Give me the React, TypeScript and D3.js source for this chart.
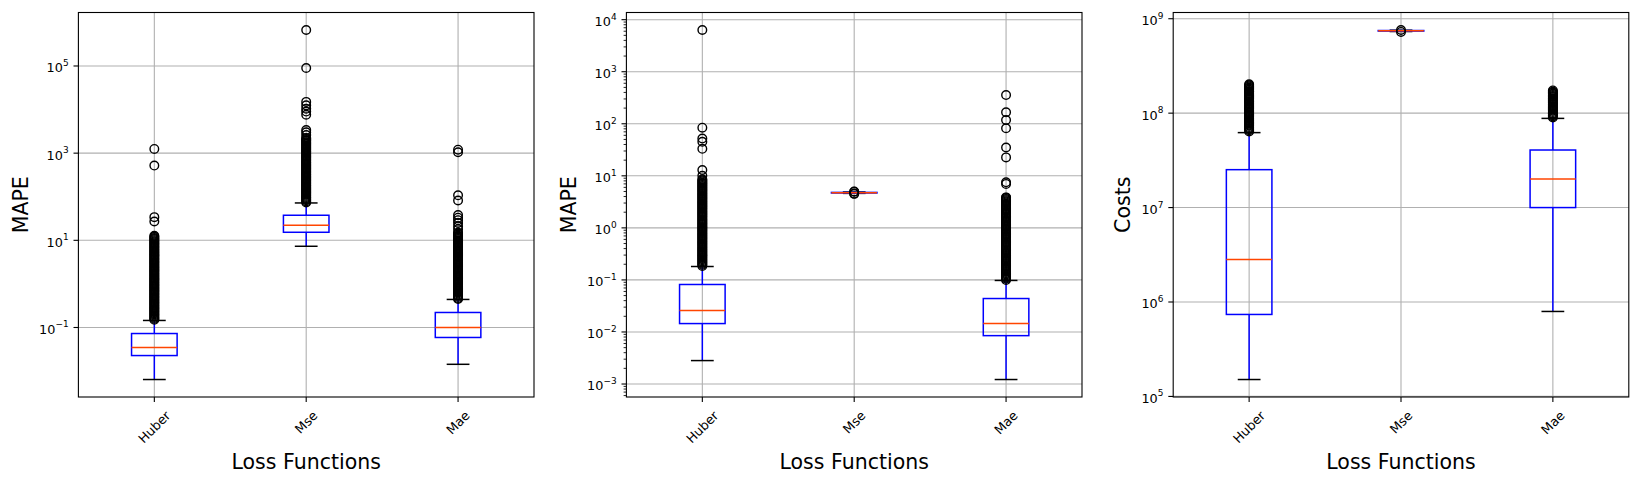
import { useEffect, useRef } from 'react';
import * as d3 from 'd3';

const lossFunctions = ['Huber', 'Mse', 'Mae'];

// MAPE, first run
const mapeAWhiskerLow = [0.0064, 7.3, 0.0143];
const mapeAQ1 = [0.0227, 15.3, 0.059];
const mapeAMedian = [0.0347, 22.1, 0.1];
const mapeAQ3 = [0.0727, 37.6, 0.221];
const mapeAWhiskerHigh = [0.145, 72, 0.44];
const mapeAHuberFliers = [
  0.15, 0.158, 0.167, 0.177, 0.188, 0.199, 0.21, 0.223, 0.236, 0.25, 0.265, 0.281, 0.297, 0.315,
  0.334, 0.354, 0.375, 0.397, 0.42, 0.445, 0.472, 0.5, 0.53, 0.561, 0.594, 0.63, 0.667, 0.707,
  0.749, 0.793, 0.84, 0.89, 0.943, 1.0, 1.06, 1.12, 1.19, 1.26, 1.33, 1.41, 1.5, 1.59, 1.68,
  1.78, 1.89, 2.0, 2.12, 2.24, 2.38, 2.52, 2.67, 2.83, 3.0, 3.17, 3.36, 3.56, 3.77, 4.0, 4.23,
  4.49, 4.75, 5.03, 5.33, 5.65, 5.99, 6.34, 6.72, 7.12, 7.54, 7.99, 8.47, 8.97, 9.5, 10.1, 10.7,
  11.3, 12.0, 12.7, 27, 34, 520, 1250,
];
const mapeAMseFliers = [
  74, 78, 83, 88, 93, 99, 105, 111, 118, 125, 132, 140, 148, 157, 166, 176, 187, 198, 210, 222,
  235, 249, 264, 280, 297, 314, 333, 353, 374, 396, 420, 445, 471, 499, 529, 560, 594, 629, 666,
  706, 748, 792, 839, 889, 942, 998, 1060, 1120, 1190, 1260, 1330, 1410, 1500, 1590, 1680, 1780,
  1890, 2000, 2120, 2240, 2600, 3000, 3400, 7600, 9000, 10500, 12500, 15000, 90000, 670000,
];
const mapeAMaeFliers = [
  0.45, 0.477, 0.505, 0.535, 0.567, 0.6, 0.636, 0.674, 0.714, 0.756, 0.8, 0.848, 0.898, 0.951,
  1.01, 1.07, 1.13, 1.2, 1.27, 1.34, 1.42, 1.51, 1.6, 1.69, 1.79, 1.9, 2.01, 2.13, 2.26, 2.39,
  2.53, 2.68, 2.84, 3.01, 3.19, 3.38, 3.58, 3.79, 4.02, 4.25, 4.5, 4.77, 5.05, 5.35, 5.67, 6.0,
  6.36, 6.74, 7.14, 7.56, 8.0, 8.48, 8.98, 9.51, 10.1, 10.7, 11.3, 12.0, 12.7, 13.5, 14.3, 15.1,
  18, 21, 25, 29, 33, 38, 82, 108, 1050, 1200,
];
const mapeATickExps = [-1, 1, 3, 5];

// MAPE, second run
const mapeBWhiskerLow = [0.00282, 4.6, 0.00122];
const mapeBQ1 = [0.0145, 4.68, 0.0085];
const mapeBMedian = [0.0258, 4.75, 0.0145];
const mapeBQ3 = [0.0817, 4.8, 0.0439];
const mapeBWhiskerHigh = [0.181, 4.88, 0.0977];
const mapeBHuberFliers = [
  0.185, 0.195, 0.205, 0.215, 0.226, 0.238, 0.25, 0.263, 0.277, 0.291, 0.306, 0.322, 0.339,
  0.356, 0.375, 0.394, 0.415, 0.436, 0.459, 0.483, 0.508, 0.534, 0.562, 0.591, 0.622, 0.654,
  0.688, 0.724, 0.761, 0.801, 0.842, 0.886, 0.932, 0.98, 1.03, 1.08, 1.14, 1.2, 1.26, 1.33, 1.4,
  1.47, 1.55, 1.63, 1.71, 1.8, 1.89, 1.99, 2.09, 2.2, 2.32, 2.44, 2.56, 2.7, 2.84, 2.98, 3.14,
  3.3, 3.47, 3.65, 3.84, 4.04, 4.25, 4.47, 4.7, 4.94, 5.2, 5.47, 5.75, 6.05, 6.36, 6.69, 7.04,
  7.4, 7.79, 8.19, 8.6, 10, 12.9, 33, 45, 52, 84, 6340,
];
const mapeBMseFliers = [4.5, 4.55, 4.95, 5.0];
const mapeBMaeFliers = [
  0.1, 0.105, 0.11, 0.116, 0.122, 0.128, 0.135, 0.142, 0.149, 0.157, 0.165, 0.173, 0.182, 0.192,
  0.202, 0.212, 0.223, 0.235, 0.247, 0.26, 0.273, 0.287, 0.302, 0.318, 0.334, 0.352, 0.37,
  0.389, 0.409, 0.43, 0.453, 0.476, 0.501, 0.527, 0.554, 0.583, 0.613, 0.645, 0.678, 0.713,
  0.75, 0.789, 0.83, 0.873, 0.918, 0.965, 1.02, 1.07, 1.12, 1.18, 1.24, 1.31, 1.37, 1.44, 1.52,
  1.6, 1.68, 1.77, 1.86, 1.96, 2.06, 2.16, 2.28, 2.39, 2.52, 2.65, 2.78, 2.93, 3.08, 3.24, 3.41,
  3.58, 3.77, 3.85, 7.0, 7.5, 22.6, 35, 82, 118, 166, 356,
];
const mapeBTickExps = [-3, -2, -1, 0, 1, 2, 3, 4];

// Costs
const costWhiskerLow = [1.51e5, 7.32e8, 7.94e5];
const costQ1 = [7.38e5, 7.4e8, 1.0e7];
const costMedian = [2.82e6, 7.45e8, 2.01e7];
const costQ3 = [2.52e7, 7.5e8, 4.07e7];
const costWhiskerHigh = [6.22e7, 7.56e8, 8.8e7];
const costHuberFliers = [
  6.4e7, 6.58e7, 6.76e7, 6.95e7, 7.15e7, 7.35e7, 7.55e7, 7.76e7, 7.98e7, 8.2e7, 8.43e7, 8.67e7,
  8.91e7, 9.16e7, 9.42e7, 9.68e7, 9.95e7, 1.02e8, 1.05e8, 1.08e8, 1.11e8, 1.14e8, 1.17e8, 1.2e8,
  1.24e8, 1.27e8, 1.31e8, 1.34e8, 1.38e8, 1.42e8, 1.46e8, 1.5e8, 1.54e8, 1.59e8, 1.63e8, 1.68e8,
  1.72e8, 1.77e8, 1.82e8, 1.87e8, 1.92e8, 1.97e8, 2.02e8,
];
const costMseFliers = [7.25e8, 7.6e8];
const costMaeFliers = [
  9.0e7, 9.25e7, 9.5e7, 9.77e7, 1.0e8, 1.03e8, 1.06e8, 1.09e8, 1.12e8, 1.15e8, 1.18e8, 1.22e8,
  1.25e8, 1.29e8, 1.32e8, 1.36e8, 1.4e8, 1.44e8, 1.48e8, 1.52e8, 1.56e8, 1.6e8, 1.65e8, 1.69e8,
  1.74e8,
];
const costTickExps = [5, 6, 7, 8, 9];

type Box = { lo: number; q1: number; med: number; q3: number; hi: number; fliers: number[] };
type Panel = { left: number; ylabel: string; boxes: Box[]; exps: number[]; minor: boolean };

const makeBoxes = (
  lo: number[], q1: number[], med: number[], q3: number[], hi: number[], fliers: number[][],
): Box[] =>
  lossFunctions.map((_, i) => ({ lo: lo[i], q1: q1[i], med: med[i], q3: q3[i], hi: hi[i], fliers: fliers[i] }));

const panels: Panel[] = [
  {
    left: 78.4,
    ylabel: 'MAPE',
    boxes: makeBoxes(mapeAWhiskerLow, mapeAQ1, mapeAMedian, mapeAQ3, mapeAWhiskerHigh,
      [mapeAHuberFliers, mapeAMseFliers, mapeAMaeFliers]),
    exps: mapeATickExps,
    minor: false,
  },
  {
    left: 626.4,
    ylabel: 'MAPE',
    boxes: makeBoxes(mapeBWhiskerLow, mapeBQ1, mapeBMedian, mapeBQ3, mapeBWhiskerHigh,
      [mapeBHuberFliers, mapeBMseFliers, mapeBMaeFliers]),
    exps: mapeBTickExps,
    minor: true,
  },
  {
    left: 1173.2,
    ylabel: 'Costs',
    boxes: makeBoxes(costWhiskerLow, costQ1, costMedian, costQ3, costWhiskerHigh,
      [costHuberFliers, costMseFliers, costMaeFliers]),
    exps: costTickExps,
    minor: false,
  },
];

const WIDTH = 1638;
const HEIGHT = 482;
const AX_W = 455.6;
const AX_TOP = 12.5;
const AX_BOTTOM = 397;
const FONT = "'DejaVu Sans', sans-serif";
const TICK_FS = 12.8;
const LABEL_FS = 20.5;
const GRID = '#b0b0b0';
const BLUE = '#0000ff';
const MEDIAN = '#ff4500';

export default function App() {
  const svgRef = useRef<SVGSVGElement>(null);

  useEffect(() => {
    if (!svgRef.current) return;
    const svg = d3.select(svgRef.current);
    svg.selectAll('*').remove();

    svg.append('rect').attr('width', WIDTH).attr('height', HEIGHT).attr('fill', '#fff');

    panels.forEach((p) => {
      const g = svg.append('g');
      const right = p.left + AX_W;

      // log domain with 5% padding like matplotlib autoscale
      const vals = p.boxes.flatMap((b) => [b.lo, b.hi, ...b.fliers]);
      const lmin = Math.log10(d3.min(vals) as number);
      const lmax = Math.log10(d3.max(vals) as number);
      const pad = (lmax - lmin) * 0.05;
      const y = d3.scaleLog()
        .domain([10 ** (lmin - pad), 10 ** (lmax + pad)])
        .range([AX_BOTTOM, AX_TOP]);
      const x = d3.scaleLinear().domain([0.5, 3.5]).range([p.left, right]);

      // grid
      g.selectAll('line.ygrid')
        .data(p.exps)
        .join('line')
        .attr('x1', p.left).attr('x2', right)
        .attr('y1', (e) => y(10 ** e)).attr('y2', (e) => y(10 ** e))
        .attr('stroke', GRID).attr('stroke-width', 1.1);
      g.selectAll('line.xgrid')
        .data(lossFunctions)
        .join('line')
        .attr('x1', (_, i) => x(i + 1)).attr('x2', (_, i) => x(i + 1))
        .attr('y1', AX_TOP).attr('y2', AX_BOTTOM)
        .attr('stroke', GRID).attr('stroke-width', 1.1);

      // boxes
      p.boxes.forEach((b, i) => {
        const pos = i + 1;
        const bg = g.append('g');
        bg.append('line')
          .attr('x1', x(pos)).attr('x2', x(pos)).attr('y1', y(b.q1)).attr('y2', y(b.lo))
          .attr('stroke', BLUE).attr('stroke-width', 1.5);
        bg.append('line')
          .attr('x1', x(pos)).attr('x2', x(pos)).attr('y1', y(b.q3)).attr('y2', y(b.hi))
          .attr('stroke', BLUE).attr('stroke-width', 1.5);
        [b.lo, b.hi].forEach((v) => {
          bg.append('line')
            .attr('x1', x(pos - 0.075)).attr('x2', x(pos + 0.075))
            .attr('y1', y(v)).attr('y2', y(v))
            .attr('stroke', '#000').attr('stroke-width', 1.5);
        });
        bg.append('rect')
          .attr('x', x(pos - 0.15)).attr('width', x(pos + 0.15) - x(pos - 0.15))
          .attr('y', y(b.q3)).attr('height', Math.max(0.01, y(b.q1) - y(b.q3)))
          .attr('fill', 'none').attr('stroke', BLUE).attr('stroke-width', 1.5);
        bg.append('line')
          .attr('x1', x(pos - 0.15)).attr('x2', x(pos + 0.15))
          .attr('y1', y(b.med)).attr('y2', y(b.med))
          .attr('stroke', MEDIAN).attr('stroke-width', 1.5);
        bg.selectAll('circle')
          .data(b.fliers)
          .join('circle')
          .attr('cx', x(pos)).attr('cy', (v) => y(v)).attr('r', 4.3)
          .attr('fill', 'none').attr('stroke', '#000').attr('stroke-width', 1.4);
      });

      // frame
      g.append('rect')
        .attr('x', p.left).attr('y', AX_TOP)
        .attr('width', AX_W).attr('height', AX_BOTTOM - AX_TOP)
        .attr('fill', 'none').attr('stroke', '#000').attr('stroke-width', 1.1);

      // y ticks
      const yTicks = g.append('g');
      p.exps.forEach((e) => {
        const ty = y(10 ** e);
        yTicks.append('line')
          .attr('x1', p.left - 4.9).attr('x2', p.left).attr('y1', ty).attr('y2', ty)
          .attr('stroke', '#000').attr('stroke-width', 1.1);
      });
      if (p.minor) {
        const [d0, d1] = y.domain();
        for (let k = Math.floor(Math.log10(d0)); k <= Math.ceil(Math.log10(d1)); k++) {
          for (let j = 2; j <= 9; j++) {
            const v = j * 10 ** k;
            if (v < d0 || v > d1) continue;
            yTicks.append('line')
              .attr('x1', p.left - 2.8).attr('x2', p.left).attr('y1', y(v)).attr('y2', y(v))
              .attr('stroke', '#000').attr('stroke-width', 0.85);
          }
        }
      }
      const yLabels = g.append('g');
      p.exps.forEach((e) => {
        const t = yLabels.append('text')
          .attr('x', p.left - 9.8)
          .attr('y', y(10 ** e) + TICK_FS * 0.5)
          .attr('text-anchor', 'end')
          .attr('font-family', FONT)
          .attr('font-size', TICK_FS)
          .attr('fill', '#000');
        t.append('tspan').text('10');
        t.append('tspan')
          .attr('dy', -TICK_FS * 0.5)
          .attr('font-size', TICK_FS * 0.7)
          .text(e < 0 ? `\u2212${-e}` : `${e}`);
      });

      // x ticks and rotated labels
      lossFunctions.forEach((name, i) => {
        const tx = x(i + 1);
        g.append('line')
          .attr('x1', tx).attr('x2', tx).attr('y1', AX_BOTTOM).attr('y2', AX_BOTTOM + 4.9)
          .attr('stroke', '#000').attr('stroke-width', 1.1);
        const t = g.append('text')
          .attr('text-anchor', 'middle')
          .attr('dominant-baseline', 'central')
          .attr('font-family', FONT)
          .attr('font-size', TICK_FS)
          .attr('fill', '#000')
          .text(name);
        const len = (t.node() as SVGTextElement).getComputedTextLength();
        const half = ((len + TICK_FS * 1.16) * Math.SQRT1_2) / 2;
        const cy = AX_BOTTOM + 11 + half;
        t.attr('x', tx).attr('y', cy).attr('transform', `rotate(-45,${tx},${cy})`);
      });

      // axis labels
      g.append('text')
        .attr('x', p.left + AX_W / 2)
        .attr('y', 468.5)
        .attr('text-anchor', 'middle')
        .attr('font-family', FONT)
        .attr('font-size', LABEL_FS)
        .attr('fill', '#000')
        .text('Loss Functions');

      const labelLeft = (yLabels.node() as SVGGElement).getBBox().x;
      const ly = (AX_TOP + AX_BOTTOM) / 2;
      const lx = labelLeft - 11.5;
      g.append('text')
        .attr('x', lx)
        .attr('y', ly)
        .attr('text-anchor', 'middle')
        .attr('transform', `rotate(-90,${lx},${ly})`)
        .attr('font-family', FONT)
        .attr('font-size', LABEL_FS)
        .attr('fill', '#000')
        .text(p.ylabel);
    });
  }, []);

  return (
    <svg
      ref={svgRef}
      width={WIDTH}
      height={HEIGHT}
      style={{ position: 'absolute', left: 0, top: 0, display: 'block' }}
    />
  );
}
